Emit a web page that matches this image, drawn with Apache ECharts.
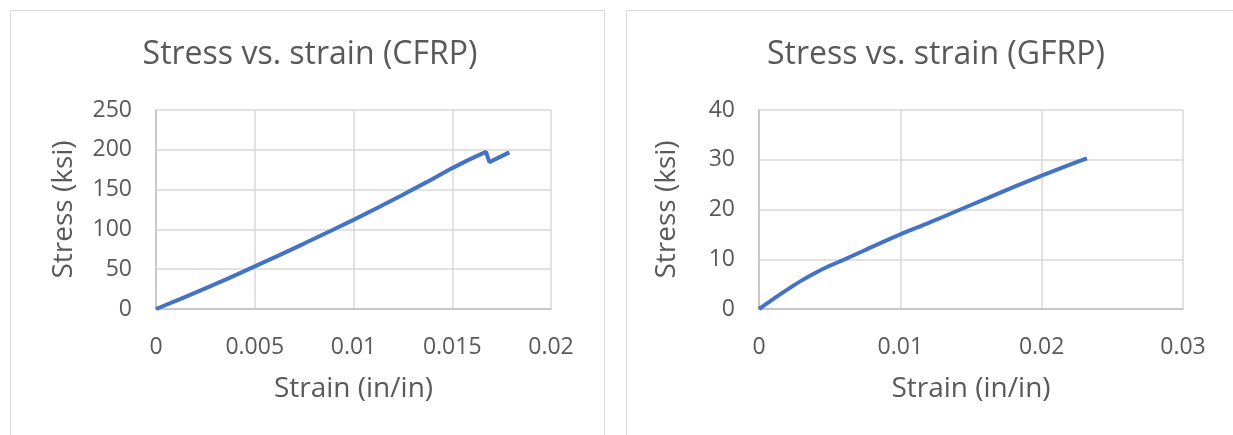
<!DOCTYPE html>
<html>
<head>
<meta charset="utf-8">
<script src="https://cdn.jsdelivr.net/npm/echarts@6/dist/echarts.min.js"></script>
<style>
  html, body { margin: 0; padding: 0; background: #ffffff; }
  #chart { width: 1233px; height: 435px; }
</style>
</head>
<body>
<div id="chart"></div>
<script>
// CFRP coupon: strain (in/in) and stress (ksi)
const cfrpStrain = [0, 0.00125, 0.0025, 0.00375, 0.005, 0.00625, 0.0075, 0.00875, 0.01, 0.01125, 0.0125, 0.01375, 0.015, 0.0158, 0.0164, 0.01671, 0.01688, 0.01789];
const cfrpStress = [0, 12.8, 26, 39.5, 53.5, 67.7, 82.2, 97, 112, 127.5, 143.5, 160, 177, 187, 194, 197.5, 184.5, 196.8];

// GFRP coupon: strain (in/in) and stress (ksi)
const gfrpStrain = [0, 0.001, 0.002, 0.003, 0.004, 0.005, 0.006, 0.008, 0.010, 0.012, 0.014, 0.016, 0.018, 0.020, 0.022, 0.0232];
const gfrpStress = [0, 2.0, 3.9, 5.7, 7.3, 8.7, 9.9, 12.5, 15.0, 17.3, 19.7, 22.1, 24.5, 26.8, 29.0, 30.3];

const titles = ['Stress vs. strain (CFRP)', 'Stress vs. strain (GFRP)'];
const xName = 'Strain (in/in)';
const yName = 'Stress (ksi)';

const font = '"Open Sans", sans-serif';
const textColor = '#595959';
const gridColor = '#d9d9d9';
const lineColor = '#4472c4';

function pairs(xs, ys) { return xs.map((x, i) => [x, ys[i]]); }

function xAxis(gridIndex, max, interval) {
  return {
    type: 'value', gridIndex, min: 0, max, interval,
    name: xName, nameLocation: 'middle', nameGap: 66,
    nameTextStyle: { color: textColor, fontSize: 28, fontFamily: font },
    axisLine: { show: true, lineStyle: { color: '#bfbfbf', width: 1.5 } },
    axisTick: { show: false },
    axisLabel: { color: textColor, fontSize: 23, fontFamily: font, margin: 27 },
    splitLine: { show: true, lineStyle: { color: gridColor, width: 1.5 } }
  };
}
function yAxis(gridIndex, max, interval) {
  return {
    type: 'value', gridIndex, min: 0, max, interval,
    name: yName, nameLocation: 'middle', nameGap: 78, nameRotate: 90,
    nameTextStyle: { color: textColor, fontSize: 28, fontFamily: font },
    axisLine: { show: true, lineStyle: { color: '#bfbfbf', width: 1.5 } },
    axisTick: { show: false },
    axisLabel: { color: textColor, fontSize: 23, fontFamily: font, margin: 24 },
    splitLine: { show: true, lineStyle: { color: gridColor, width: 1.5 } }
  };
}

const chart = echarts.init(document.getElementById('chart'), null, { renderer: 'canvas' });
chart.setOption({
  backgroundColor: '#ffffff',
  animation: false,
  graphic: [
    { type: 'rect', shape: { x: 10.5, y: 10.5, width: 594, height: 440 }, style: { fill: 'none', stroke: gridColor, lineWidth: 1 }, z: -1 },
    { type: 'rect', shape: { x: 626.5, y: 10.5, width: 620, height: 440 }, style: { fill: 'none', stroke: gridColor, lineWidth: 1 }, z: -1 }
  ],
  title: [
    { text: titles[0], left: 305, top: 34, textAlign: 'center',
      textStyle: { color: textColor, fontSize: 32, fontWeight: 'normal', fontFamily: font } },
    { text: titles[1], left: 931, top: 34, textAlign: 'center',
      textStyle: { color: textColor, fontSize: 32, fontWeight: 'normal', fontFamily: font } }
  ],
  grid: [
    { left: 156, top: 110, width: 395, height: 199 },
    { left: 759, top: 110, width: 424, height: 199 }
  ],
  xAxis: [xAxis(0, 0.02, 0.005), xAxis(1, 0.03, 0.01)],
  yAxis: [yAxis(0, 250, 50), yAxis(1, 40, 10)],
  series: [
    { type: 'line', xAxisIndex: 0, yAxisIndex: 0, data: pairs(cfrpStrain, cfrpStress),
      showSymbol: false, lineStyle: { color: lineColor, width: 4 } },
    { type: 'line', xAxisIndex: 1, yAxisIndex: 1, data: pairs(gfrpStrain, gfrpStress),
      showSymbol: false, smooth: 0.3, lineStyle: { color: lineColor, width: 4 } }
  ]
});
</script>
</body>
</html>
